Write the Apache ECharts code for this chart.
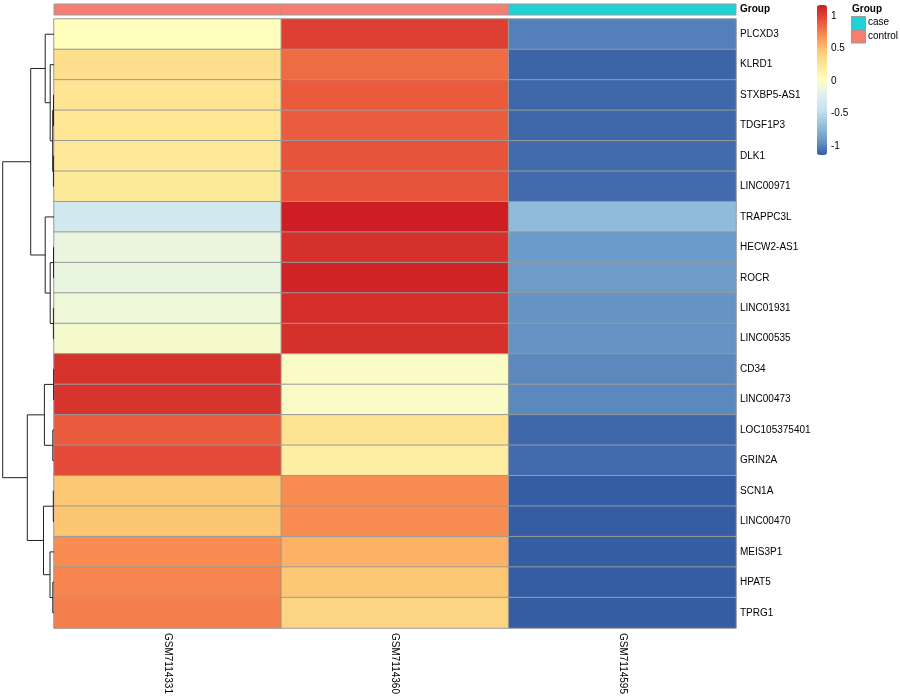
<!DOCTYPE html>
<html>
<head>
<meta charset="utf-8">
<script src="https://cdn.jsdelivr.net/npm/echarts@6/dist/echarts.min.js"></script>
<style>
html,body{margin:0;padding:0;background:#fff;}
#chart{width:900px;height:700px;}
</style>
</head>
<body>
<div id="chart"></div>
<script>
// ---------- data ----------
const samples = ['GSM7114331', 'GSM7114360', 'GSM7114595'];
const sampleGroups = ['control', 'control', 'case'];
const genes = ['PLCXD3','KLRD1','STXBP5-AS1','TDGF1P3','DLK1','LINC00971','TRAPPC3L','HECW2-AS1','ROCR','LINC01931','LINC00535','CD34','LINC00473','LOC105375401','GRIN2A','SCN1A','LINC00470','MEIS3P1','HPAT5','TPRG1'];
// row-scaled values (z-scores) for each sample column
const colGSM7114331 = [0.02, 0.29, 0.25, 0.24, 0.21, 0.20, -0.36, -0.15, -0.16, -0.12, -0.07, 1.06, 1.05, 0.88, 0.95, 0.45, 0.46, 0.69, 0.72, 0.74];
const colGSM7114360 = [1.00, 0.82, 0.88, 0.87, 0.91, 0.915, 1.15, 1.07, 1.12, 1.08, 1.07, -0.04, -0.04, 0.26, 0.16, 0.69, 0.69, 0.54, 0.45, 0.365];
const colGSM7114595 = [-1.02, -1.12, -1.11, -1.11, -1.10, -1.10, -0.73, -0.92, -0.91, -0.95, -0.95, -0.99, -0.99, -1.11, -1.10, -1.15, -1.15, -1.15, -1.15, -1.15];
const legendTicks = [-1, -0.5, 0, 0.5, 1];
const scaleMin = -1.1547, scaleMax = 1.1547;
// row dendrogram (hclust-like merges: negative = leaf row index (-(i+1)), positive = merge number (1-based))
const mergeLeft  = [-3, -5, 1, -2, -1, -8, -10, 6, -7, 5, -12, -14, 11, -16, -19, -18, 14, 13, 10];
const mergeRight = [-4, -6, 2, 3, 4, -9, -11, 7, 8, 9, -13, -15, 12, -17, -20, 15, 16, 17, 18];
const mergeHeight = [0.5, 0.6, 1.3, 3.8, 8.8, 0.5, 0.6, 3.8, 8.8, 23.3, 0.4, 1.2, 9.6, 0.7, 1.2, 4.0, 10.5, 26.7, 51.3];
const groupColors = { case: '#1ED2D6', control: '#F57D72' };
const palette = ['#345CA3','#6A9AC8','#97C1DD','#C6E2EE','#DEF0EE','#FFFFBF','#FEE796','#FCC672','#F98B51','#E6503A','#CB1D23'];

// ---------- build ----------
const cols = [colGSM7114331, colGSM7114360, colGSM7114595];
const heatData = [];
cols.forEach((c, x) => c.forEach((v, y) => heatData.push([x, y, v])));
const annData = sampleGroups.map((g, x) => [x, 0, g]);

// dendrogram node positions
const nodePos = [], nodeH = [];
function posOf(id) { return id < 0 ? (-id - 1) + 0.5 : nodePos[id - 1]; }
function hOf(id) { return id < 0 ? 0 : nodeH[id - 1]; }
const dendData = [];
for (let i = 0; i < mergeLeft.length; i++) {
  const pa = posOf(mergeLeft[i]), pb = posOf(mergeRight[i]);
  const ha = hOf(mergeLeft[i]), hb = hOf(mergeRight[i]);
  nodePos.push((pa + pb) / 2); nodeH.push(mergeHeight[i]);
  dendData.push([mergeHeight[i], pa, pb, ha, hb]);
}

const FONT = "'Liberation Sans', Arial, Helvetica, sans-serif";
const L = 54, R = 164;
const chart = echarts.init(document.getElementById('chart'), null, { renderer: 'canvas' });
chart.setOption({
  animation: false,
  backgroundColor: '#fff',
  textStyle: { fontFamily: FONT },
  grid: [
    { left: L, right: R, top: 19, height: 609 },
    { left: L, right: R, top: 4, height: 11 },
    { left: 0, width: 54, top: 19, height: 609 },
    { left: 817, width: 10, top: 3, height: 156 }
  ],
  xAxis: [
    { gridIndex: 0, type: 'category', data: samples, position: 'bottom',
      axisLine: { show: false }, axisTick: { show: false }, splitLine: { show: false },
      axisLabel: { rotate: -90, fontSize: 10, color: '#000', margin: 5, fontFamily: FONT } },
    { gridIndex: 1, type: 'category', data: samples, show: false },
    { gridIndex: 2, type: 'value', min: 0, max: 54, inverse: true, show: false },
    { gridIndex: 3, type: 'value', min: 0, max: 1, show: false }
  ],
  yAxis: [
    { gridIndex: 0, type: 'category', data: genes, inverse: true, position: 'right',
      axisLine: { show: false }, axisTick: { show: false }, splitLine: { show: false },
      axisLabel: { fontSize: 10, color: '#000', margin: 4, fontFamily: FONT } },
    { gridIndex: 1, type: 'category', data: ['Group'], position: 'right',
      axisLine: { show: false }, axisTick: { show: false }, splitLine: { show: false },
      axisLabel: { fontSize: 10, color: '#000', fontWeight: 'bold', margin: 4, fontFamily: FONT } },
    { gridIndex: 2, type: 'value', min: 0, max: 20, inverse: true, show: false },
    { gridIndex: 3, type: 'value', min: -1.2, max: 1.2, interval: 0.1, position: 'right',
      axisLine: { show: false }, axisTick: { show: false }, splitLine: { show: false },
      axisLabel: { fontSize: 10, color: '#000', margin: 4, fontFamily: FONT, showMinLabel: true, showMaxLabel: true,
        formatter: v => { const t = legendTicks.find(t => Math.abs(t - v) < 1e-6); return t === undefined ? '' : String(t); } } }
  ],
  visualMap: {
    type: 'continuous', seriesIndex: 0, min: scaleMin, max: scaleMax,
    left: 817, top: 5, itemWidth: 10, itemHeight: 150, padding: 0,
    calculable: false, hoverLink: false, text: null,
    inRange: { color: palette }
  },
  series: [
    { type: 'heatmap', xAxisIndex: 0, yAxisIndex: 0, data: heatData,
      itemStyle: { borderColor: '#9a9a9a', borderWidth: 1 },
      emphasis: { disabled: true } },
    { type: 'custom', xAxisIndex: 1, yAxisIndex: 1, data: annData,
      renderItem: function (params, api) {
        const c = api.coord([api.value(0), api.value(1)]);
        const s = api.size([1, 1]);
        const g = annData[params.dataIndex][2];
        return { type: 'rect',
          shape: { x: c[0] - s[0] / 2, y: c[1] - s[1] / 2, width: s[0], height: s[1] },
          style: { fill: groupColors[g], stroke: '#9a9a9a', lineWidth: 1 } };
      } },
    { type: 'custom', xAxisIndex: 2, yAxisIndex: 2, data: dendData,
      encode: { x: [0, 3, 4], y: [1, 2] },
      renderItem: function (params, api) {
        const h = api.value(0), pa = api.value(1), pb = api.value(2), ha = api.value(3), hb = api.value(4);
        const pts = [api.coord([ha, pa]), api.coord([h, pa]), api.coord([h, pb]), api.coord([hb, pb])];
        return { type: 'polyline', shape: { points: pts },
          style: { stroke: '#222', lineWidth: 1, fill: null } };
      } },
    { type: 'line', xAxisIndex: 3, yAxisIndex: 3, data: [], silent: true }
  ],
  graphic: [
    { type: 'text', left: 852, top: 4, style: { text: 'Group', font: "bold 10px " + FONT, fill: '#000' } },
    { type: 'rect', left: 851, top: 16, shape: { width: 14, height: 13 }, style: { fill: groupColors.case, stroke: '#999', lineWidth: 1 } },
    { type: 'rect', left: 851, top: 29.5, shape: { width: 14, height: 13 }, style: { fill: groupColors.control, stroke: '#999', lineWidth: 1 } },
    { type: 'text', left: 868, top: 17.5, style: { text: 'case', font: "10px " + FONT, fill: '#000' } },
    { type: 'text', left: 868, top: 31, style: { text: 'control', font: "10px " + FONT, fill: '#000' } }
  ]
});
</script>
</body>
</html>
